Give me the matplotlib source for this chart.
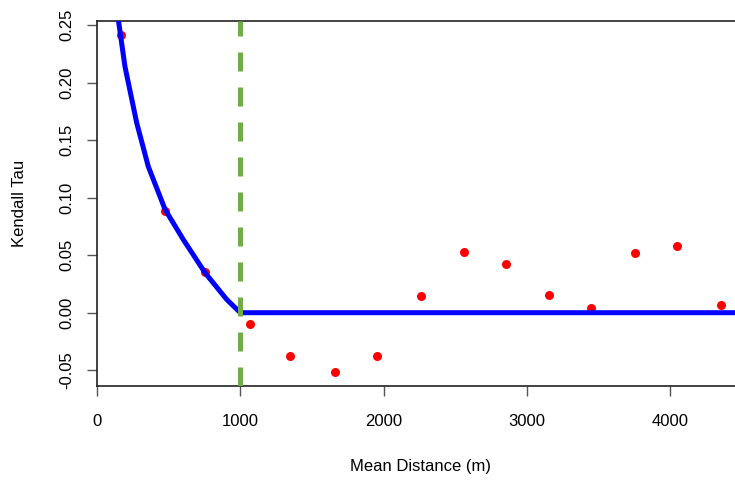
import matplotlib
matplotlib.use("Agg")
import matplotlib.pyplot as plt

plt.rcParams['font.family'] = ['Liberation Sans', 'DejaVu Sans']

# observed Kendall tau per distance class
distance = [167, 475, 754, 1068, 1347, 1661, 1954, 2259, 2559, 2857,
            3157, 3450, 3753, 4050, 4352]
tau = [0.2416, 0.0888, 0.0350, -0.0102, -0.0380, -0.0512, -0.0377, 0.0141,
       0.0529, 0.0419, 0.0153, 0.0043, 0.0520, 0.0584, 0.0069]

# fitted curve as drawn
fit_x = [130, 149, 195, 277, 358, 475, 602, 754, 905, 1000, 4500]
fit_y = [0.272, 0.2546, 0.214, 0.165, 0.127, 0.0897, 0.0636, 0.0347, 0.0115, 0.0, 0.0]

threshold = 1000
xticks = [0, 1000, 2000, 3000, 4000]
yticks = [-0.05, 0.00, 0.05, 0.10, 0.15, 0.20, 0.25]

fig = plt.figure(figsize=(7.35, 4.8), dpi=100)
ax = fig.add_axes([97 / 735, 94 / 480, 1 - 97 / 735, 365 / 480])

ax.plot(fit_x, fit_y, color="#0000FF", lw=3.6, solid_joinstyle="miter", zorder=3)
ax.scatter(distance, tau, s=42, color="#FF0000", zorder=2, linewidths=0)
ax.axvline(threshold, color="#70AD47", lw=3.6, dashes=(3.8, 3.2), zorder=4)

ax.set_xlim(0, 4452)
ax.set_ylim(-0.0637, 0.2535)

ax.set_xticks(xticks)
ax.set_xticklabels([str(t) for t in xticks])
ax.set_yticks(yticks)
ax.set_yticklabels(["%.2f" % t for t in yticks], rotation=90, va="center")

ax.tick_params(axis="both", length=7.5, width=1, color="#555555", labelsize=12)
ax.tick_params(axis="x", pad=13)
ax.tick_params(axis="y", pad=9)

ax.spines["right"].set_visible(False)
for s in ["left", "bottom", "top"]:
    ax.spines[s].set_linewidth(1.2)
    ax.spines[s].set_color("#222222")

fig.text(20 / 735, 1 - 203 / 480, "Kendall Tau", rotation=90, ha="center", va="center", fontsize=12)
fig.text(420 / 735, 1 - 466 / 480, "Mean Distance (m)", ha="center", va="center", fontsize=12)

fig.savefig("out.png", dpi=100)
